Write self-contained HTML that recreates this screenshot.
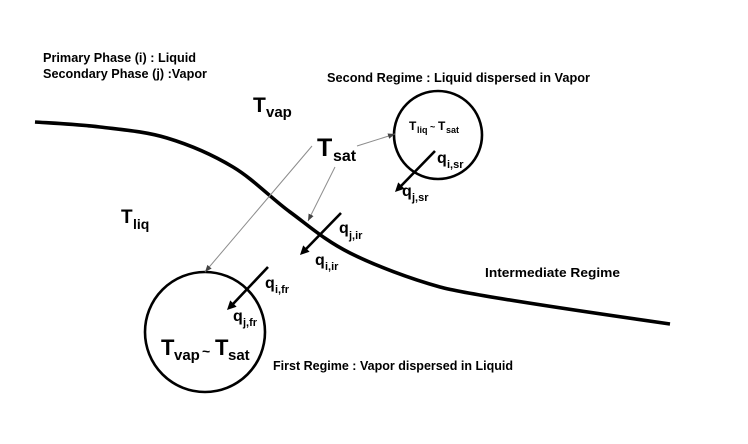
<!DOCTYPE html>
<html>
<head>
<meta charset="utf-8">
<style>
  html,body{margin:0;padding:0;background:#fff;}
  svg{display:block;}
  text{font-family:"Liberation Sans",Arial,sans-serif;font-weight:bold;fill:#000;}
</style>
</head>
<body>
<svg width="748" height="444" viewBox="0 0 748 444" xmlns="http://www.w3.org/2000/svg">
  <defs>
    <marker id="sm" viewBox="0 0 10 10" refX="10" refY="5" markerWidth="7" markerHeight="7" orient="auto">
      <path d="M0,1 L10,5 L0,9 z" fill="#444"/>
    </marker>
  </defs>
  <rect width="748" height="444" fill="#fff"/>

  <!-- Header texts -->
  <text x="43" y="62" font-size="13" textLength="153" lengthAdjust="spacingAndGlyphs">Primary Phase (i) : Liquid</text>
  <text x="43" y="78" font-size="13" textLength="164" lengthAdjust="spacingAndGlyphs">Secondary Phase (j) :Vapor</text>
  <text x="327" y="82" font-size="13" textLength="263" lengthAdjust="spacingAndGlyphs">Second Regime :  Liquid dispersed in Vapor</text>
  <text x="485" y="277" font-size="12.6" textLength="135" lengthAdjust="spacingAndGlyphs">Intermediate Regime</text>
  <text x="273" y="370" font-size="13" textLength="240" lengthAdjust="spacingAndGlyphs">First Regime : Vapor dispersed in Liquid</text>

  <!-- Interface curve -->
  <path fill="none" stroke="#000" stroke-width="3.6" stroke-linecap="butt"
    d="M35,122 C45.8,122.8 78,124.3 100,127
       C122,129.7 144.8,131.3 167,138
       C189.2,144.7 212.5,154.7 233,167
       C253.5,179.3 270.5,197.7 290,212
       C309.5,226.3 325,240.5 350,253
       C375,265.5 410,278.7 440,287
       C470,295.3 600,314 670,324"/>

  <!-- Circles -->
  <circle cx="205" cy="332" r="60" fill="none" stroke="#000" stroke-width="2.6"/>
  <circle cx="438" cy="135" r="44" fill="none" stroke="#000" stroke-width="2.6"/>

  <!-- Thin gray pointer lines -->
  <line x1="312" y1="146" x2="205" y2="272" stroke="#8c8c8c" stroke-width="1" marker-end="url(#sm)"/>
  <line x1="335" y1="167" x2="308" y2="221" stroke="#8c8c8c" stroke-width="1" marker-end="url(#sm)"/>
  <line x1="357" y1="146" x2="395" y2="134" stroke="#8c8c8c" stroke-width="1" marker-end="url(#sm)"/>

  <!-- Thick heat-flux arrows -->
  <line x1="341" y1="213" x2="306" y2="249" stroke="#000" stroke-width="2.6"/>
  <polygon points="300,255 309.6,251.8 303.2,245.4" fill="#000"/>

  <line x1="268" y1="267" x2="233" y2="304" stroke="#000" stroke-width="2.6"/>
  <polygon points="227,310 236.6,306.8 230.2,300.4" fill="#000"/>

  <line x1="435" y1="151" x2="401" y2="186" stroke="#000" stroke-width="2.6"/>
  <polygon points="395,192 404.6,188.8 398.2,182.4" fill="#000"/>

  <!-- Temperatures -->
  <text x="253" y="112" font-size="21">T</text>
  <text x="266" y="117" font-size="15">vap</text>

  <text x="317" y="156" font-size="25">T</text>
  <text x="333" y="161" font-size="16">sat</text>

  <text x="121" y="223" font-size="19">T</text>
  <text x="133" y="229" font-size="14">liq</text>

  <!-- First circle label -->
  <text x="161" y="355" font-size="22">T</text>
  <text x="174" y="360" font-size="15">vap</text>
  <text x="202" y="356" font-size="14">~</text>
  <text x="215" y="355" font-size="22">T</text>
  <text x="228" y="360" font-size="15">sat</text>

  <!-- Second circle label -->
  <text x="409" y="130" font-size="12">T</text>
  <text x="417" y="133" font-size="9">liq</text>
  <text x="430" y="130" font-size="9">~</text>
  <text x="438" y="130" font-size="12">T</text>
  <text x="446" y="133" font-size="9">sat</text>

  <!-- q labels -->
  <text x="339" y="233" font-size="16">q</text>
  <text x="349" y="239" font-size="11">j,ir</text>

  <text x="315" y="265" font-size="16">q</text>
  <text x="325" y="270" font-size="11">i,ir</text>

  <text x="265" y="288" font-size="16">q</text>
  <text x="275" y="293" font-size="11">i,fr</text>

  <text x="233" y="321" font-size="16">q</text>
  <text x="243" y="326" font-size="11">j,fr</text>

  <text x="437" y="163" font-size="16">q</text>
  <text x="447" y="168" font-size="11">i,sr</text>

  <text x="402" y="196" font-size="16">q</text>
  <text x="412" y="201" font-size="11">j,sr</text>
</svg>
</body>
</html>
